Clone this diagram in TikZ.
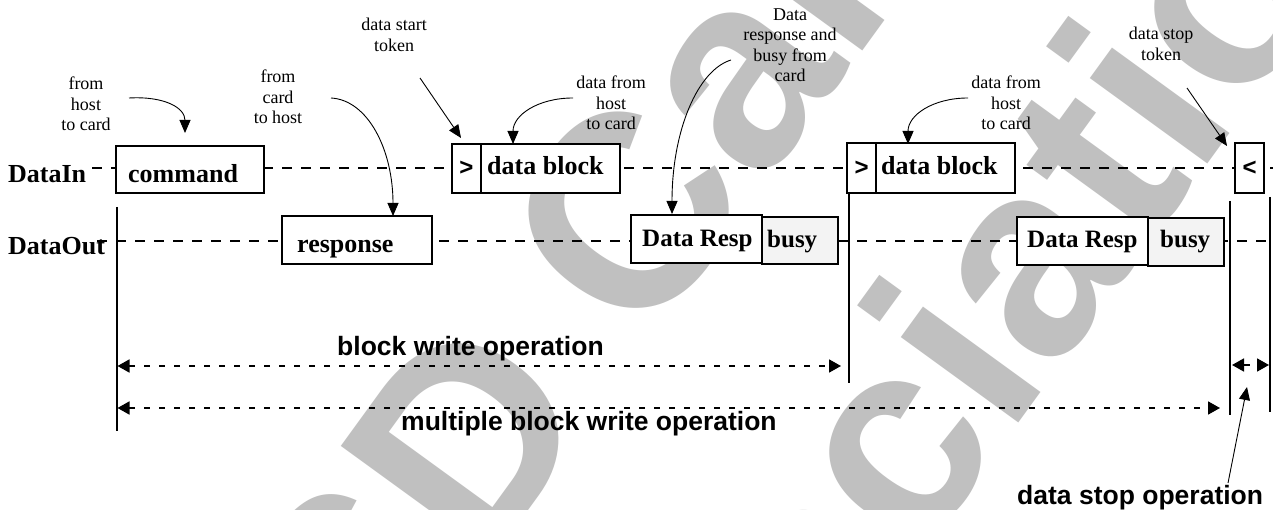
\documentclass[tikz,border=0pt]{standalone}
\usepackage{fontspec}
\setmainfont{Liberation Serif}
\newfontfamily\arialf{Liberation Sans}
\usetikzlibrary{arrows.meta}
\definecolor{wm}{RGB}{192,192,192}
\definecolor{busyfill}{RGB}{243,243,243}
\begin{document}
\begin{tikzpicture}[x=1pt,y=-1pt,
  sbox/.style={draw,line width=1.8pt,fill=white,inner sep=0pt,font=\arialf\bfseries\fontsize{24}{26}\selectfont},
  lbl/.style={anchor=base west,inner sep=0pt,font=\fontsize{26}{28}\selectfont\bfseries},
  rlbl/.style={anchor=base west,inner sep=0pt,font=\fontsize{25}{27}\selectfont\bfseries},
  ann/.style={align=center,inner sep=0pt,font=\fontsize{18}{20.5}\selectfont},
  oplbl/.style={anchor=base west,inner sep=0pt,font=\arialf\bfseries\fontsize{26.5}{28}\selectfont},
  sig/.style={line width=1.6pt,dash pattern=on 10pt off 9pt},
  vline/.style={line width=1.5pt},
  annarrow/.style={line width=0.9pt,-{Triangle[length=13pt,width=11pt]}},
  oparrow/.style={line width=1.8pt,dash pattern=on 6pt off 9pt,{Triangle[length=12pt,width=13pt]}-{Triangle[length=12pt,width=13pt]}},
  wmark/.style={anchor=base west,inner sep=0pt,text=wm,rotate=54,font=\arialf\bfseries\fontsize{275}{300}\selectfont}
]
\useasboundingbox (0,0) rectangle (1273,510);
\fill[white] (0,0) rectangle (1273,510);
% watermark
\begin{scope}
\clip (0,0) rectangle (1273,510);
\node[wmark] (wm1) at (375.5,721.4) {SD Card};
\node[wmark] (wm2) at (522.3,1106.8) {Association};
\end{scope}
% signal lines
\coordinate (inL) at (92,168); \coordinate (inR) at (1273,168);
\coordinate (outL) at (97,241); \coordinate (outR) at (1273,241);
\draw[sig] (inL) -- (inR);
\draw[sig] (outL) -- (outR);
% vertical lines
\coordinate (v1a) at (117,207); \coordinate (v1b) at (117,431);
\coordinate (v2a) at (849,193); \coordinate (v2b) at (849,383);
\coordinate (v3a) at (1230,201); \coordinate (v3b) at (1230,415);
\coordinate (v4a) at (1270,197); \coordinate (v4b) at (1270,412);
\draw[vline] (v1a) -- (v1b);
\draw[vline] (v2a) -- (v2b);
\draw[vline] (v3a) -- (v3b);
\draw[vline] (v4a) -- (v4b);
% boxes
\node[sbox,minimum width=148pt,minimum height=47pt] (cmd) at (190,169.5) {};
\node[sbox,minimum width=150pt,minimum height=48pt] (resp) at (357,240) {};
\node[sbox,minimum width=29pt,minimum height=49pt] (st1) at (466.5,168.5) {>};
\node[sbox,minimum width=139pt,minimum height=49pt] (db1) at (550.5,168.5) {};
\node[sbox,minimum width=131pt,minimum height=48pt] (dr1) at (696.5,239) {};
\node[sbox,fill=busyfill,minimum width=76pt,minimum height=47pt] (busy1) at (800,240.5) {};
\node[sbox,minimum width=29pt,minimum height=50pt] (st2) at (861.5,168) {>};
\node[sbox,minimum width=139pt,minimum height=50pt] (db2) at (945.5,168) {};
\node[sbox,minimum width=131pt,minimum height=48pt] (dr2) at (1082.5,241) {};
\node[sbox,fill=busyfill,minimum width=76pt,minimum height=48pt] (busy2) at (1186,242) {};
\node[sbox,minimum width=29pt,minimum height=50pt] (stop) at (1249.5,168) {<};
% labels
\node[lbl] (tin) at (8,183) {DataIn};
\node[lbl] (tout) at (8,255) {DataOut};
\node[lbl] (tcmd) at (128,183) {command};
\node[lbl] (tresp) at (297,253) {response};
\node[lbl] (tdb1) at (487,175) {data block};
\node[lbl] (tdb2) at (881,175) {data block};
\node[rlbl] (tdr1) at (642,247) {Data Resp};
\node[rlbl] (tbusy1) at (767,248) {busy};
\node[rlbl] (tdr2) at (1027,248) {Data Resp};
\node[rlbl] (tbusy2) at (1160,248) {busy};
% annotations
\node[ann] (a1) at (86,104) {from\\host\\to card};
\node[ann] (a2) at (278,97) {from\\card\\to host};
\node[ann] (a3) at (394,35) {data start\\token};
\node[ann] (a4) at (611,103) {data from\\host\\to card};
\node[ann] (a5) at (790,45) {Data\\response and\\busy from\\card};
\node[ann] (a6) at (1006,103) {data from\\host\\to card};
\node[ann] (a7) at (1161,44) {data stop\\token};
% annotation arrows
\coordinate (p1) at (129,98); \coordinate (q1) at (185,133);
\draw[annarrow] (p1) .. controls (165,96) and (185,108) .. (q1);
\coordinate (p2) at (331,98); \coordinate (q2) at (393,216);
\draw[annarrow] (p2) .. controls (368,100) and (393,150) .. (q2);
\coordinate (p3) at (420,78); \coordinate (q3) at (461,138);
\draw[annarrow] (p3) -- (q3);
\coordinate (p4) at (573,98); \coordinate (q4) at (513,144);
\draw[annarrow] (p4) .. controls (538,98) and (513,115) .. (q4);
\coordinate (p5) at (731,60); \coordinate (q5) at (672,214);
\draw[annarrow] (p5) .. controls (698,70) and (672,130) .. (q5);
\coordinate (p6) at (968,98); \coordinate (q6) at (908,144);
\draw[annarrow] (p6) .. controls (933,98) and (908,115) .. (q6);
\coordinate (p7) at (1187,88); \coordinate (q7) at (1227,146);
\draw[annarrow] (p7) -- (q7);
% operation arrows
\coordinate (bwL) at (117.5,366); \coordinate (bwR) at (841,366);
\coordinate (mwL) at (117.5,408); \coordinate (mwR) at (1220,408);
\coordinate (dsL) at (1232,365); \coordinate (dsR) at (1269,365);
\draw[oparrow] (bwL) -- (bwR);
\draw[oparrow] (mwL) -- (mwR);
\draw[oparrow] (dsL) -- (dsR);
\node[oplbl] (tbw) at (337,355) {block write operation};
\node[oplbl] (tmw) at (401,430) {multiple block write operation};
\node[oplbl] (tds) at (1017,504) {data stop operation};
\coordinate (p8) at (1228,483); \coordinate (q8) at (1247,387);
\draw[annarrow] (p8) -- (q8);
\end{tikzpicture}
\end{document}
